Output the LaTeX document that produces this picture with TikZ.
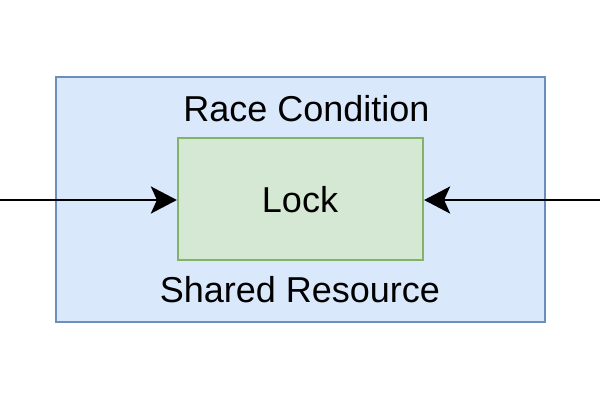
\documentclass[tikz,border=0pt]{standalone}
\usepackage{fontspec}
\setmainfont{Liberation Sans}
\usetikzlibrary{arrows.meta}
\definecolor{bluefill}{HTML}{DAE8FC}
\definecolor{bluedraw}{HTML}{6C8EBF}
\definecolor{greenfill}{HTML}{D5E8D4}
\definecolor{greendraw}{HTML}{82B366}
\begin{document}
\begin{tikzpicture}[x=1pt,y=-1pt,
  outerbox/.style={draw=bluedraw,fill=bluefill,line width=2.2pt},
  innerbox/.style={draw=greendraw,fill=greenfill,line width=2.2pt},
  lbl/.style={font=\fontsize{36}{40}\selectfont,inner sep=0pt,anchor=base},
  conn/.style={line width=2.8pt,-{Stealth[length=26pt,width=27pt,inset=6pt]}}]
\useasboundingbox (0,0) rectangle (600,400);
\node[outerbox,minimum width=489pt,minimum height=245pt,inner sep=0pt] (outer) at (300.5,199.5) {};
\node[innerbox,minimum width=245pt,minimum height=122pt,inner sep=0pt] (lock) at (300.5,199) {};
\node[lbl] (title) at (306.5,121) {Race Condition};
\node[lbl] (locklbl) at (300,212) {Lock};
\node[lbl] (shared) at (300,302.5) {Shared Resource};
\coordinate (lin) at (0,200);
\coordinate (rin) at (600,200);
\draw[conn] (lin) -- (lock.west |- lin);
\draw[conn] (rin) -- (lock.east |- rin);
\end{tikzpicture}
\end{document}
